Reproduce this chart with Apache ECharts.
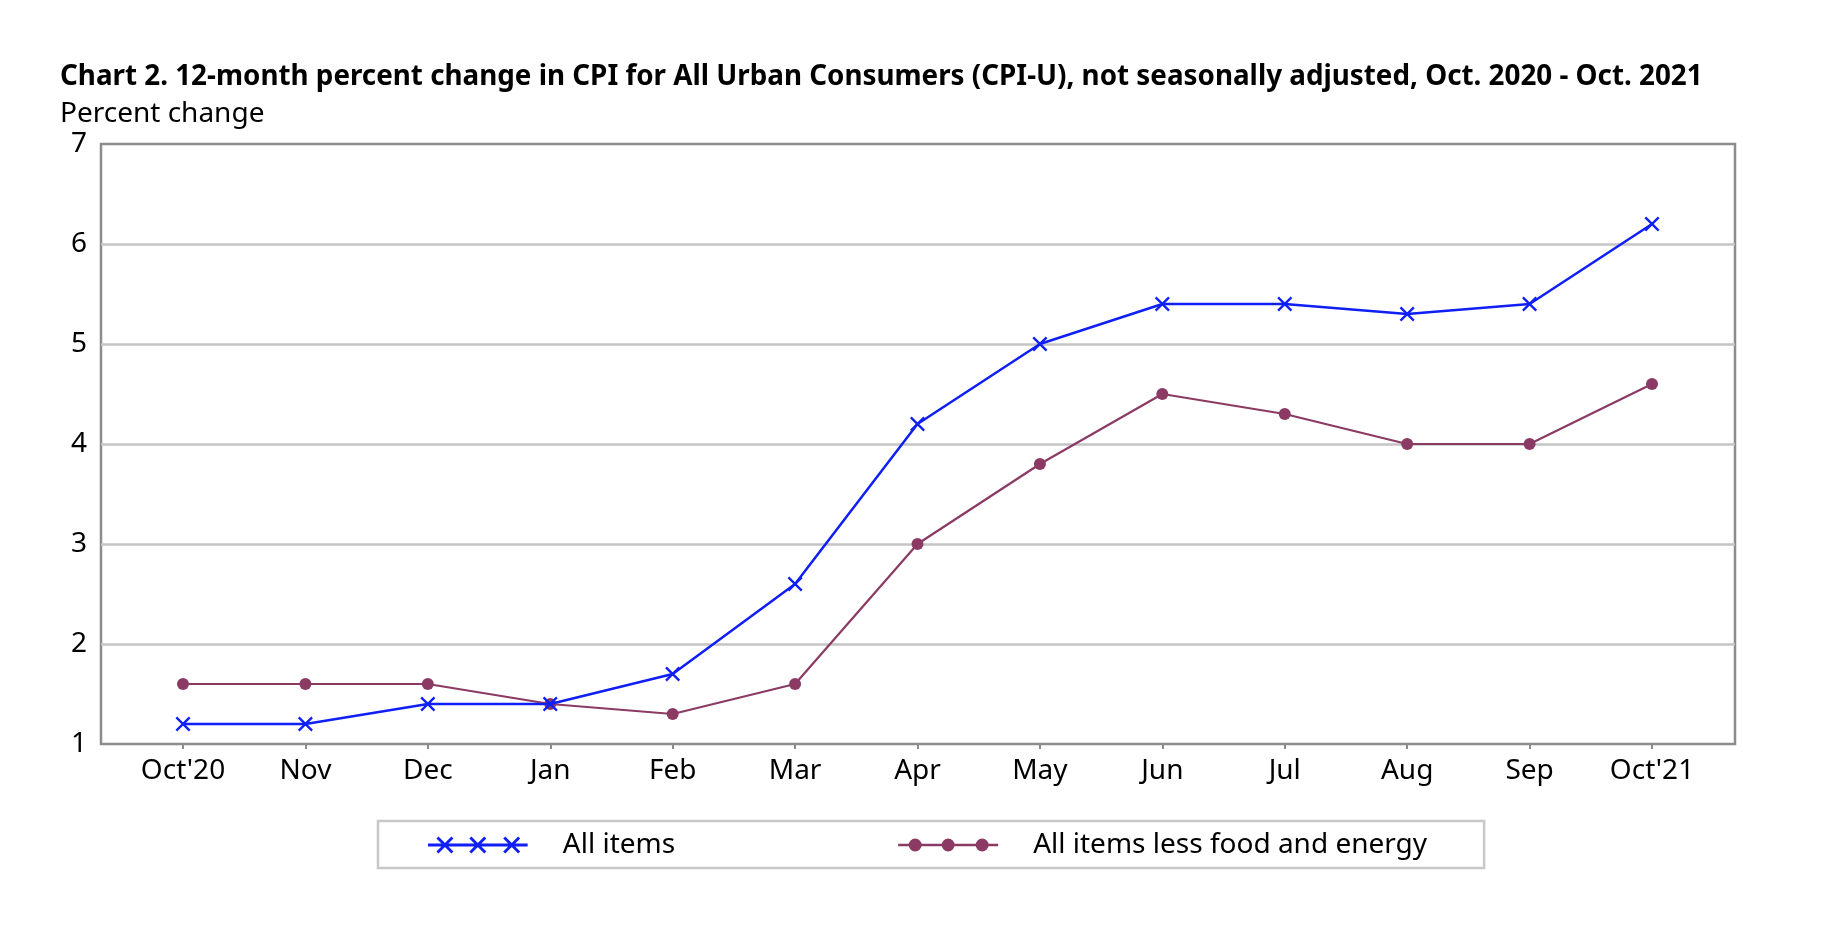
<!DOCTYPE html>
<html>
<head>
<meta charset="utf-8">
<title>CPI-U 12-month percent change</title>
<script src="https://cdn.jsdelivr.net/npm/echarts@6/dist/echarts.min.js"></script>
<style>
  html, body { margin: 0; padding: 0; background: #fff; }
  #chart { width: 1836px; height: 946px; }
</style>
</head>
<body>
<div id="chart"></div>
<script>
// 月份标签
const months = ["Oct'20", 'Nov', 'Dec', 'Jan', 'Feb', 'Mar', 'Apr', 'May', 'Jun', 'Jul', 'Aug', 'Sep', "Oct'21"];
// 两条序列
const allItems = [1.2, 1.2, 1.4, 1.4, 1.7, 2.6, 4.2, 5.0, 5.4, 5.4, 5.3, 5.4, 6.2];
const coreItems = [1.6, 1.6, 1.6, 1.4, 1.3, 1.6, 3.0, 3.8, 4.5, 4.3, 4.0, 4.0, 4.6];
// y 轴范围
const yMin = 1, yMax = 7, yStep = 1;

const FONT = '"Noto Sans", "Open Sans", sans-serif';
const BLUE = '#0f1ff5';
const PURPLE = '#8b3a64';
const LABEL_SIZE = 28;

// 画一条有粗细的线段（多边形），用于叉号图标
function seg(ax, ay, bx, by, t) {
    const len = Math.hypot(bx - ax, by - ay);
    const nx = -(by - ay) / len * t / 2, ny = (bx - ax) / len * t / 2;
    const p = [[ax - nx, ay - ny], [bx - nx, by - ny], [bx + nx, by + ny], [ax + nx, ay + ny]];
    return 'M' + p.map(q => q[0].toFixed(2) + ',' + q[1].toFixed(2)).join('L') + 'Z';
}
function cross(cx, cy, h, t) {
    return seg(cx - h, cy - h, cx + h, cy + h, t) + seg(cx - h, cy + h, cx + h, cy - h, t);
}
function circle(cx, cy, r) {
    return 'M' + (cx - r) + ',' + cy + 'A' + r + ',' + r + ' 0 0 1 ' + (cx + r) + ',' + cy +
        'A' + r + ',' + r + ' 0 0 1 ' + (cx - r) + ',' + cy + 'Z';
}

const crossSymbol = 'path://' + cross(10, 10, 7.5, 2.6);
const blueIcon = 'path://M0,6.5L100,6.5L100,9.5L0,9.5Z' + cross(17, 8, 7.5, 2.9) + cross(50, 8, 7.5, 2.9) + cross(84, 8, 7.5, 2.9);
const purpleIcon = 'path://M0,6.8L100,6.8L100,9.2L0,9.2Z' + circle(17, 8, 6.5) + circle(50, 8, 6.5) + circle(84, 8, 6.5);

const chart = echarts.init(document.getElementById('chart'));
const option = {
    backgroundColor: '#fff',
    textStyle: { fontFamily: FONT },
    animation: false,
    title: [
        {
            text: 'Chart 2. 12-month percent change in CPI for All Urban Consumers (CPI-U), not seasonally adjusted, Oct. 2020 - Oct. 2021',
            left: 60, top: 61, padding: 0,
            textStyle: { fontFamily: FONT, fontSize: 27.8, fontWeight: 'bold', color: '#000', lineHeight: 32 }
        },
        {
            text: 'Percent change',
            left: 60, top: 98, padding: 0,
            textStyle: { fontFamily: FONT, fontSize: LABEL_SIZE, fontWeight: 'normal', color: '#000', lineHeight: 32 }
        }
    ],
    legend: {
        left: 378, top: 821,
        padding: [10, 57, 9, 50],
        borderColor: '#c8c8c8', borderWidth: 2.5,
        itemWidth: 100, itemHeight: 17, itemGap: 223,
        itemStyle: { borderWidth: 0 },
        textStyle: { fontFamily: FONT, fontSize: LABEL_SIZE, color: '#000', padding: [0, 0, 0, 30] },
        data: [
            { name: 'All items', icon: blueIcon },
            { name: 'All items less food and energy', icon: purpleIcon }
        ]
    },
    grid: [
        // 外框 + 横向网格线
        { left: 101, right: 101, top: 144, bottom: 202, show: true, borderColor: '#8c8c8c', borderWidth: 2.5, backgroundColor: 'transparent' },
        // 数据区
        { left: 183, right: 184, top: 144, bottom: 202 }
    ],
    xAxis: [
        { gridIndex: 0, type: 'category', data: months, show: false },
        {
            gridIndex: 1, type: 'category', data: months, boundaryGap: false,
            axisLine: { show: false },
            axisTick: { show: true, length: 5, lineStyle: { color: '#8c8c8c', width: 2 } },
            axisLabel: { fontFamily: FONT, fontSize: LABEL_SIZE, color: '#000', margin: 13, interval: 0 },
            splitLine: { show: false }
        }
    ],
    yAxis: [
        {
            gridIndex: 0, type: 'value', min: yMin, max: yMax, interval: yStep,
            axisLine: { show: false }, axisTick: { show: false },
            axisLabel: { fontFamily: FONT, fontSize: LABEL_SIZE, color: '#000', margin: 14 },
            splitLine: { show: true, showMinLine: false, showMaxLine: false, lineStyle: { color: '#c4c4c4', width: 2.5 } }
        },
        { gridIndex: 1, type: 'value', min: yMin, max: yMax, interval: yStep, show: false, splitLine: { show: false } }
    ],
    series: [
        {
            name: 'All items', type: 'line', xAxisIndex: 1, yAxisIndex: 1,
            data: allItems,
            symbol: crossSymbol, symbolSize: 15,
            lineStyle: { color: BLUE, width: 2.5 },
            itemStyle: { color: BLUE, borderWidth: 0 },
            z: 4
        },
        {
            name: 'All items less food and energy', type: 'line', xAxisIndex: 1, yAxisIndex: 1,
            data: coreItems,
            symbol: 'circle', symbolSize: 12,
            lineStyle: { color: PURPLE, width: 2.2 },
            itemStyle: { color: PURPLE, borderWidth: 0 },
            z: 3
        }
    ]
};
chart.setOption(option);
</script>
</body>
</html>
